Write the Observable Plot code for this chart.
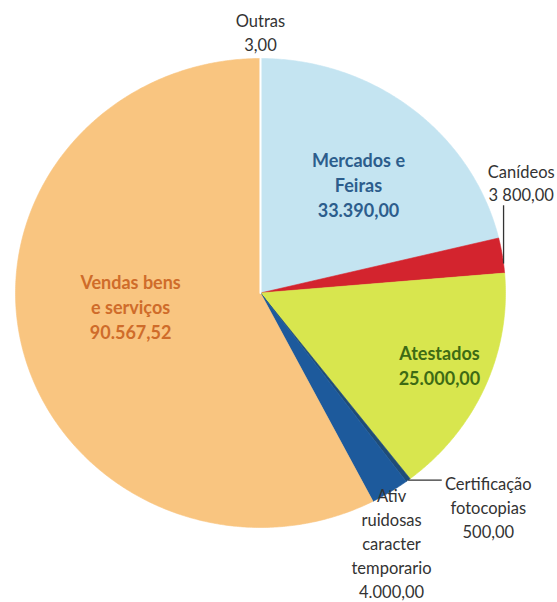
<!DOCTYPE html>
<html>
<head>
<meta charset="utf-8">
<script src="https://cdn.jsdelivr.net/npm/d3@7"></script>
<script src="https://cdn.jsdelivr.net/npm/@observablehq/plot@0.6"></script>
<style>
  html, body { margin: 0; padding: 0; background: #fff; }
  #chart { width: 557px; height: 602px; }
</style>
</head>
<body>
<div id="chart"></div>
<script>
// ---- data (clockwise from 12 o'clock) ----
const names = ["Mercados e\nFeiras", "Canídeos", "Atestados", "Certificação\nfotocopias", "Ativ\nruidosas\ncaracter\ntemporario", "Vendas bens\ne serviços", "Outras"];
const values = [33390, 3800, 25000, 500, 4000, 90567.52, 3];
const valueLabels = ["33.390,00", "3 800,00", "25.000,00", "500,00", "4.000,00", "90.567,52", "3,00"];
const sliceColors = ["#c4e4f1", "#d3242e", "#d8e64e", "#1f4c77", "#1d5a9c", "#f9c580", "#ffffff"];
const textColors = ["#2c5d8c", "#333333", "#3d6b14", "#333333", "#333333", "#cf6c2a", "#333333"];
const boldLabel = [true, false, true, false, false, true, false];

// ---- layout (label placement relative to slice mid-angle) ----
const labelR = [0.613, 1.165, 0.792, 1.30, 1.19, 0.533, 1.117];
const labelDA = [2.5, -14.8, -1, -8.6, 5.2, 7.8, 0];
const leader = ["", "up", "", "right", "", "", ""];

const total = d3.sum(values);
const rad = Math.PI / 180;
let acc = 0;
const slices = values.map((v, i) => {
  const a0 = acc / total * 360;
  acc += v;
  const a1 = acc / total * 360;
  return {i, name: names[i], a0, a1, mid: (a0 + a1) / 2};
});

// polygon points for each slice
const pts = [];
for (const s of slices) {
  pts.push({k: s.i, x: 0, y: 0, c: sliceColors[s.i]});
  const n = Math.max(2, Math.ceil((s.a1 - s.a0) / 0.5));
  for (let j = 0; j <= n; j++) {
    const a = (s.a0 + (s.a1 - s.a0) * j / n) * rad;
    pts.push({k: s.i, x: Math.sin(a), y: Math.cos(a), c: sliceColors[s.i]});
  }
  pts.push({k: s.i, x: 0, y: 0, c: sliceColors[s.i]});
}

const labels = slices.map(s => {
  const a = (s.mid + labelDA[s.i]) * rad;
  return {
    i: s.i,
    x: Math.sin(a) * labelR[s.i],
    y: Math.cos(a) * labelR[s.i],
    text: names[s.i] + "\n" + valueLabels[s.i],
    color: textColors[s.i],
    bold: boldLabel[s.i]
  };
});

const links = [];
for (const s of slices) {
  const L = labels[s.i];
  const a = s.mid * rad;
  if (leader[s.i] === "up") {
    const ex = Math.sin(a + 2 * rad), ey = Math.cos(a + 2 * rad);
    links.push({x1: ex, y1: ey, x2: ex, y2: L.y - 0.1});
  } else if (leader[s.i] === "right") {
    const ex = Math.sin(a), ey = Math.cos(a);
    links.push({x1: ex, y1: ey, x2: L.x - 0.19, y2: ey});
  }
}

const chart = Plot.plot({
  width: 557,
  height: 602,
  margin: 0,
  style: {fontFamily: "Lato, 'Open Sans', sans-serif", background: "#fff"},
  x: {domain: [-1, 1], range: [15, 505], axis: null},
  y: {domain: [-1, 1], range: [527, 58], axis: null},
  color: {type: "identity"},
  marks: [
    Plot.line(pts.filter(d => d.k !== 6), {x: "x", y: "y", z: "k", fill: "c", stroke: "c", strokeWidth: 0.6, curve: "linear"}),
    Plot.line(pts.filter(d => d.k === 6), {x: "x", y: "y", z: "k", fill: "c", stroke: "#ffffff", strokeWidth: 2, curve: "linear"}),
    Plot.link(links, {x1: "x1", y1: "y1", x2: "x2", y2: "y2", stroke: "#333", strokeWidth: 1.3}),
    Plot.text(labels.filter(d => d.bold), {x: "x", y: "y", text: "text", fill: "color", fontSize: 18, fontWeight: "bold", lineHeight: 1.39, textAnchor: "middle"}),
    Plot.text(labels.filter(d => !d.bold), {x: "x", y: "y", text: "text", fill: "color", fontSize: 16.5, lineHeight: 1.45, textAnchor: "middle"})
  ]
});
document.getElementById("chart").appendChild(chart);
</script>
</body>
</html>
